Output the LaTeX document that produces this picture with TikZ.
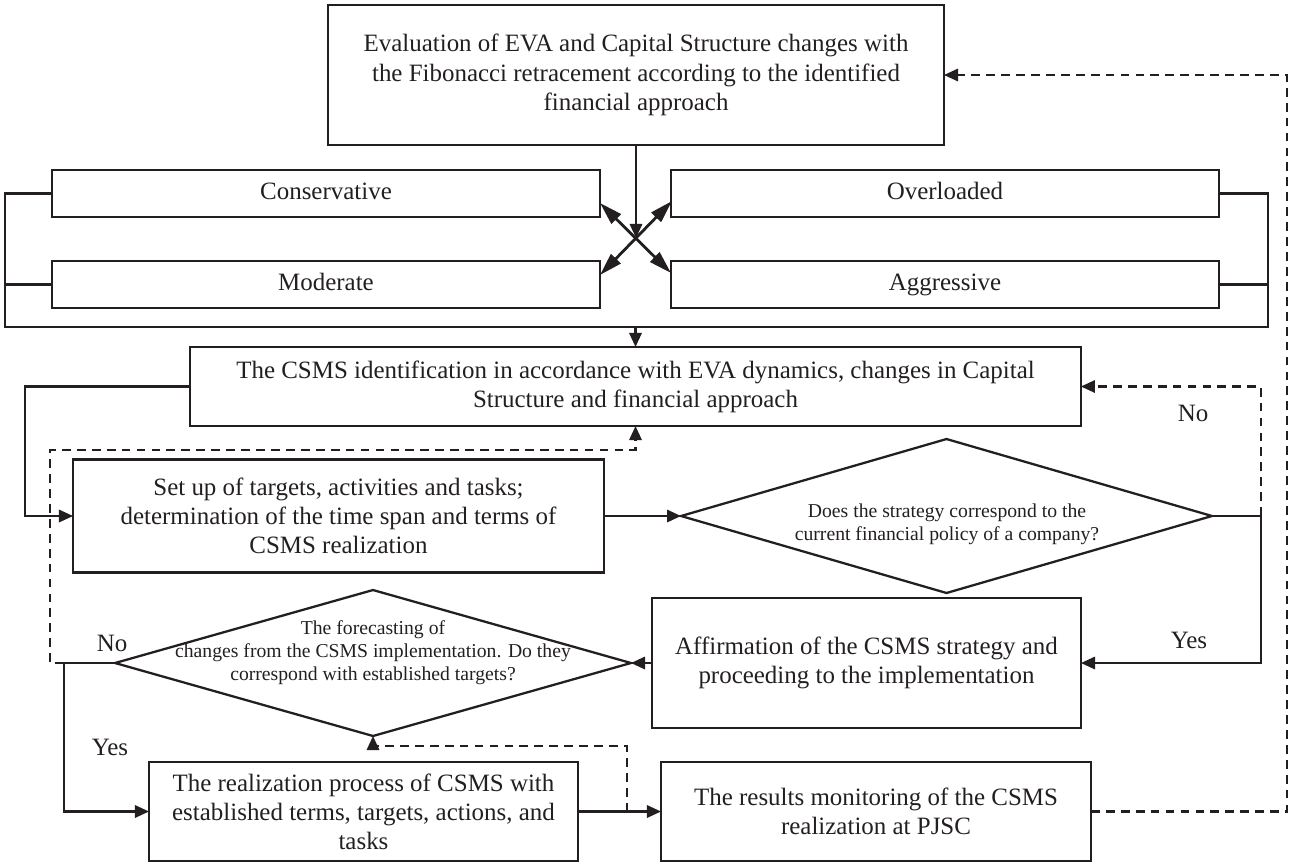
\documentclass[tikz,border=0pt]{standalone}
\usepackage{fontspec}
\setmainfont{Liberation Serif}
\usetikzlibrary{arrows.meta,shapes.geometric,calc}
\definecolor{ink}{HTML}{231F20}
\newcommand\mainsz{\fontsize{14.2}{16.6}\selectfont}
\newcommand\dsz{\fontsize{11.2}{13.1}\selectfont}
\begin{document}
\begin{tikzpicture}[x=0.02cm,y=-0.02cm,
  box/.style={draw=ink, line width=1.3pt, rectangle, inner sep=2pt, outer sep=0pt, align=center, font=\mainsz, text=ink},
  onebox/.style={box, minimum width=10.96cm, minimum height=0.94cm, text height=10pt, text depth=3pt},
  dia/.style={draw=ink, line width=1.3pt, diamond, inner sep=0pt, outer sep=0pt},
  dtext/.style={align=center, font=\dsz, inner sep=0pt, text=ink},
  lab/.style={font=\mainsz, inner sep=0pt, text=ink},
  conn/.style={draw=ink, line width=1.3pt},
  arr/.style={conn, -{Triangle[length=8pt,width=7pt]}},
  darr/.style={conn, dash pattern=on 5pt off 3.5pt, -{Triangle[length=8pt,width=7pt]}},
  xarr/.style={conn, line width=1.6pt, {Triangle[length=13pt,width=7.5pt]}-{Triangle[length=13pt,width=7.5pt]}}
]
\useasboundingbox (0,0) rectangle (1290,866);

% boxes
\node[box, minimum width=12.32cm, minimum height=2.8cm] (top) at (636,75)
  {Evaluation of EVA and Capital Structure changes with\\the Fibonacci retracement according to the identified\\financial approach};
\node[onebox] (cons) at (326,193.5) {Conservative};
\node[onebox] (mod) at (326,284.5) {Moderate};
\node[onebox] (over) at (945,193.5) {Overloaded};
\node[onebox] (aggr) at (945,284.5) {Aggressive};
\node[box, minimum width=17.82cm, minimum height=1.58cm] (csms) at (635.5,386.5)
  {The CSMS identification in accordance with EVA dynamics, changes in Capital\\Structure and financial approach};
\node[box, minimum width=10.62cm, minimum height=2.26cm] (setup) at (338.5,516)
  {Set up of targets, activities and tasks;\\determination of the time span and terms of\\CSMS realization};
\node[dia, minimum width=10.62cm, minimum height=3.08cm] (d1) at (946.5,516) {};
\node[dtext] (d1t) at (947,524) {Does the strategy correspond to the\\current financial policy of a company?};
\node[box, minimum width=8.58cm, minimum height=2.6cm] (aff) at (866.5,663)
  {Affirmation of the CSMS strategy and\\proceeding to the implementation};
\node[dia, minimum width=10.32cm, minimum height=2.92cm] (d2) at (373,663) {};
\node[dtext] (d2t) at (373,653) {The forecasting of\\changes from the CSMS implementation. Do they\\correspond with established targets?};
\node[box, minimum width=8.58cm, minimum height=1.98cm] (real) at (363.5,811.5)
  {The realization process of CSMS with\\established terms, targets, actions, and\\tasks};
\node[box, minimum width=8.6cm, minimum height=1.98cm] (res) at (876,811.5)
  {The results monitoring of the CSMS\\realization at PJSC};

% labels
\node[lab] (no1) at (1193,413) {No};
\node[lab] (yes1) at (1189,640) {Yes};
\node[lab] (no2) at (112,643) {No};
\node[lab] (yes2) at (110,747) {Yes};

% coordinates
\coordinate (X) at (636,238);
\coordinate (xa) at (600,203);
\coordinate (xb) at (671,273);
\coordinate (xc) at (672,201);
\coordinate (xd) at (600,275);
\coordinate (busL) at (5,327);
\coordinate (busR) at (1268,327);
\coordinate (ry) at (1261,516);
\coordinate (ly) at (64,663);
\coordinate (ln) at (50,450);
\coordinate (rt) at (627,746);
\coordinate (rr) at (1287,75);

% connectors
\draw[arr] (top.south) -- (X);
\draw[xarr] (xa) -- (xb);
\draw[xarr] (xc) -- (xd);
\draw[conn] (cons.west) -| (busL) -- (busR) |- (over.east);
\draw[conn] (mod.west) -- (mod.west -| busL);
\draw[conn] (aggr.east) -- (aggr.east -| busR);
\draw[arr] (csms.north |- busL) -- (csms.north);
\draw[arr] (csms.west) -- ++(-165,0) |- (setup.west);
\draw[arr] (setup.east) -- (d1.west);
\draw[arr] (d1.east) -- (ry) |- (aff.east);
\draw[darr] (ry) |- (csms.east);
\draw[arr] (aff.west) -- (d2.east);
\draw[arr] (d2.west) -- (ly) |- (real.west);
\draw[darr] (ly) -- (ly -| ln) -- (ln) -| (csms.south);
\draw[arr] (real.east) -- (res.west);
\draw[darr] (rt |- real.east) -- (rt) -| (d2.south);
\draw[darr] (res.east) -| (rr) -- (top.east);
\end{tikzpicture}
\end{document}
